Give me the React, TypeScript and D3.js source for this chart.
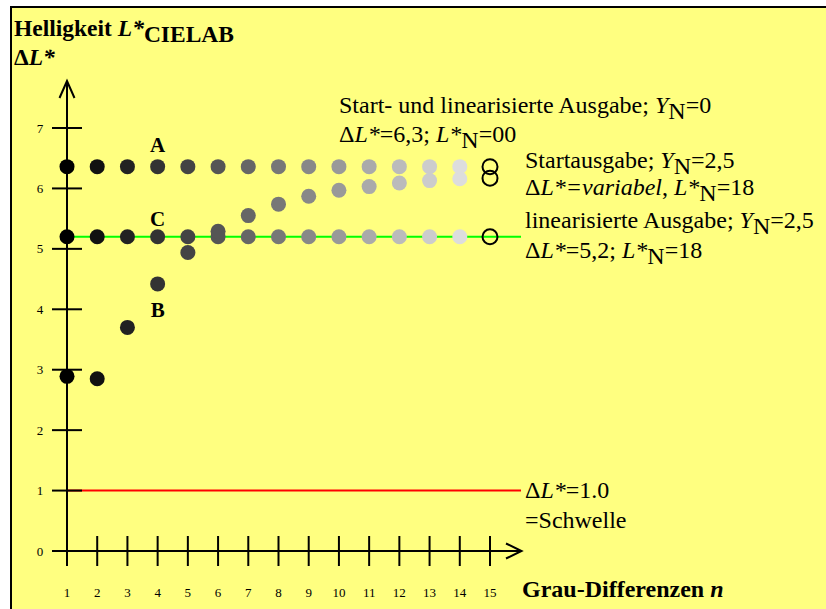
import React, { useEffect, useRef } from 'react';
import * as d3 from 'd3';

// Grau-Differenzen n (x axis)
const grauStufen = [1, 2, 3, 4, 5, 6, 7, 8, 9, 10, 11, 12, 13, 14];
const xTicks = [1, 2, 3, 4, 5, 6, 7, 8, 9, 10, 11, 12, 13, 14, 15];
const yTicks = [0, 1, 2, 3, 4, 5, 6, 7];

// A: Start- und linearisierte Ausgabe, Y_N=0
const reiheA = [6.36, 6.36, 6.36, 6.36, 6.36, 6.36, 6.36, 6.36, 6.36, 6.36, 6.36, 6.36, 6.36, 6.36];
// B: Startausgabe, Y_N=2,5
const reiheB = [2.89, 2.85, 3.70, 4.42, 4.94, 5.29, 5.55, 5.74, 5.87, 5.97, 6.03, 6.09, 6.13, 6.16];
// C: linearisierte Ausgabe, Y_N=2,5
const reiheC = [5.2, 5.2, 5.2, 5.2, 5.2, 5.2, 5.2, 5.2, 5.2, 5.2, 5.2, 5.2, 5.2, 5.2];
// open circles at n=15
const endKreise = [6.36, 6.17, 5.2];
const endN = 15;

const schwelle = 1.0;
const linearWert = 5.2;

type Part = { t: string; i?: boolean; sub?: boolean };

function richText(g: any, x: number, y: number, parts: Part[], size: number, bold = false) {
    const t = g.append('text')
        .attr('x', x)
        .attr('y', y)
        .attr('font-size', size)
        .attr('font-weight', bold ? 'bold' : 'normal');
    let shift = 0;
    parts.forEach(p => {
        const s = t.append('tspan').text(p.t);
        const want = p.sub ? 6 : 0;
        if (want !== shift) {
            s.attr('dy', want - shift);
            shift = want;
        }
        if (p.i) s.attr('font-style', 'italic');
    });
    return t;
}

function App() {
    const ref = useRef<SVGSVGElement>(null);
    const width = 826;
    const height = 609;

    useEffect(() => {
        const svg = d3.select(ref.current);
        svg.selectAll('*').remove();

        const x = d3.scaleLinear().domain([1, 15]).range([67, 490]);
        const y = d3.scaleLinear().domain([0, 7]).range([551, 128]);
        const grau = d3.scaleLinear<string>().domain([1, 14]).range(['#000000', '#dddddd']);

        svg.append('rect')
            .attr('x', 11).attr('y', 7)
            .attr('width', width).attr('height', height)
            .attr('fill', '#ffff80')
            .attr('stroke', '#000').attr('stroke-width', 2);

        const g = svg.append('g')
            .attr('font-family', "'Times New Roman', 'Liberation Serif', serif")
            .attr('fill', '#000');

        // threshold and linear lines
        g.append('line')
            .attr('x1', x(1)).attr('x2', 521)
            .attr('y1', y(schwelle)).attr('y2', y(schwelle))
            .attr('stroke', '#ff0000').attr('stroke-width', 2);
        g.append('line')
            .attr('x1', x(1)).attr('x2', 521)
            .attr('y1', y(linearWert)).attr('y2', y(linearWert))
            .attr('stroke', '#00ff00').attr('stroke-width', 2);

        // axes
        const ax = g.append('g').attr('stroke', '#000').attr('stroke-width', 2).attr('fill', 'none');
        ax.append('line').attr('x1', x(1)).attr('x2', x(1)).attr('y1', y(0) + 15).attr('y2', y(7) - 47);
        ax.append('line').attr('x1', x(1) - 15).attr('x2', 521).attr('y1', y(0)).attr('y2', y(0));
        ax.append('path')
            .attr('d', `M${x(1) - 7.5},${y(7) - 30} L${x(1)},${y(7) - 47} L${x(1) + 7.5},${y(7) - 30}`);
        ax.append('path')
            .attr('d', `M506,${y(0) - 7.5} L521.5,${y(0)} L506,${y(0) + 7.5}`);
        ax.selectAll('.yt').data(yTicks).enter().append('line')
            .attr('x1', x(1) - 15).attr('x2', x(1) + 15)
            .attr('y1', d => y(d)).attr('y2', d => y(d));
        ax.selectAll('.xt').data(xTicks).enter().append('line')
            .attr('x1', d => x(d)).attr('x2', d => x(d))
            .attr('y1', y(0) - 15).attr('y2', y(0) + 15);

        g.selectAll('.ytl').data(yTicks).enter().append('text')
            .attr('x', 40).attr('y', d => y(d) + 4.5)
            .attr('text-anchor', 'middle').attr('font-size', 13)
            .text(d => d);
        g.selectAll('.xtl').data(xTicks).enter().append('text')
            .attr('x', d => x(d)).attr('y', 597)
            .attr('text-anchor', 'middle').attr('font-size', 13)
            .text(d => d);

        // dots
        const dots = (vals: number[]) => {
            g.append('g').selectAll('circle').data(vals).enter().append('circle')
                .attr('cx', (d, i) => x(grauStufen[i]))
                .attr('cy', d => y(d))
                .attr('r', 7.5)
                .attr('fill', (d, i) => grau(grauStufen[i]));
        };
        dots(reiheC);
        dots(reiheB);
        dots(reiheA);

        g.append('g').selectAll('circle').data(endKreise).enter().append('circle')
            .attr('cx', x(endN)).attr('cy', d => y(d))
            .attr('r', 7.5)
            .attr('fill', 'none').attr('stroke', '#000').attr('stroke-width', 2);

        // series letters
        g.append('text').attr('x', x(4)).attr('y', 152).attr('text-anchor', 'middle')
            .attr('font-size', 21).attr('font-weight', 'bold').text('A');
        g.append('text').attr('x', x(4)).attr('y', 226).attr('text-anchor', 'middle')
            .attr('font-size', 21).attr('font-weight', 'bold').text('C');
        g.append('text').attr('x', x(4)).attr('y', 317).attr('text-anchor', 'middle')
            .attr('font-size', 21).attr('font-weight', 'bold').text('B');

        // titles
        richText(g, 14, 36, [{ t: 'Helligkeit ' }, { t: 'L*', i: true }, { t: 'CIELAB', sub: true }], 23.5, true);
        richText(g, 14, 65, [{ t: 'Δ' }, { t: 'L*', i: true }], 23.5, true);
        richText(g, 522, 597, [{ t: 'Grau-Differenzen ' }, { t: 'n', i: true }], 24, true);

        const fs = 24;
        richText(g, 339, 113, [{ t: 'Start- und linearisierte Ausgabe; ' }, { t: 'Y', i: true }, { t: 'N', sub: true }, { t: '=0' }], fs);
        richText(g, 339, 142, [{ t: 'Δ' }, { t: 'L*', i: true }, { t: '=6,3; ' }, { t: 'L*', i: true }, { t: 'N', sub: true }, { t: '=00' }], fs);
        richText(g, 525, 168, [{ t: 'Startausgabe; ' }, { t: 'Y', i: true }, { t: 'N', sub: true }, { t: '=2,5' }], fs);
        richText(g, 525, 195, [{ t: 'Δ' }, { t: 'L*', i: true }, { t: '=variabel', i: true }, { t: ', ' }, { t: 'L*', i: true }, { t: 'N', sub: true }, { t: '=18' }], fs);
        richText(g, 525, 228, [{ t: 'linearisierte Ausgabe; ' }, { t: 'Y', i: true }, { t: 'N', sub: true }, { t: '=2,5' }], fs);
        richText(g, 525, 258, [{ t: 'Δ' }, { t: 'L*', i: true }, { t: '=5,2; ' }, { t: 'L*', i: true }, { t: 'N', sub: true }, { t: '=18' }], fs);
        richText(g, 525, 498, [{ t: 'Δ' }, { t: 'L*', i: true }, { t: '=1.0' }], fs);
        richText(g, 525, 528, [{ t: '=Schwelle' }], fs);
    }, []);

    return (
        <svg
            ref={ref}
            width={width}
            height={height}
            style={{ position: 'absolute', left: 0, top: 0, display: 'block' }}
        />
    );
}

export default App;
